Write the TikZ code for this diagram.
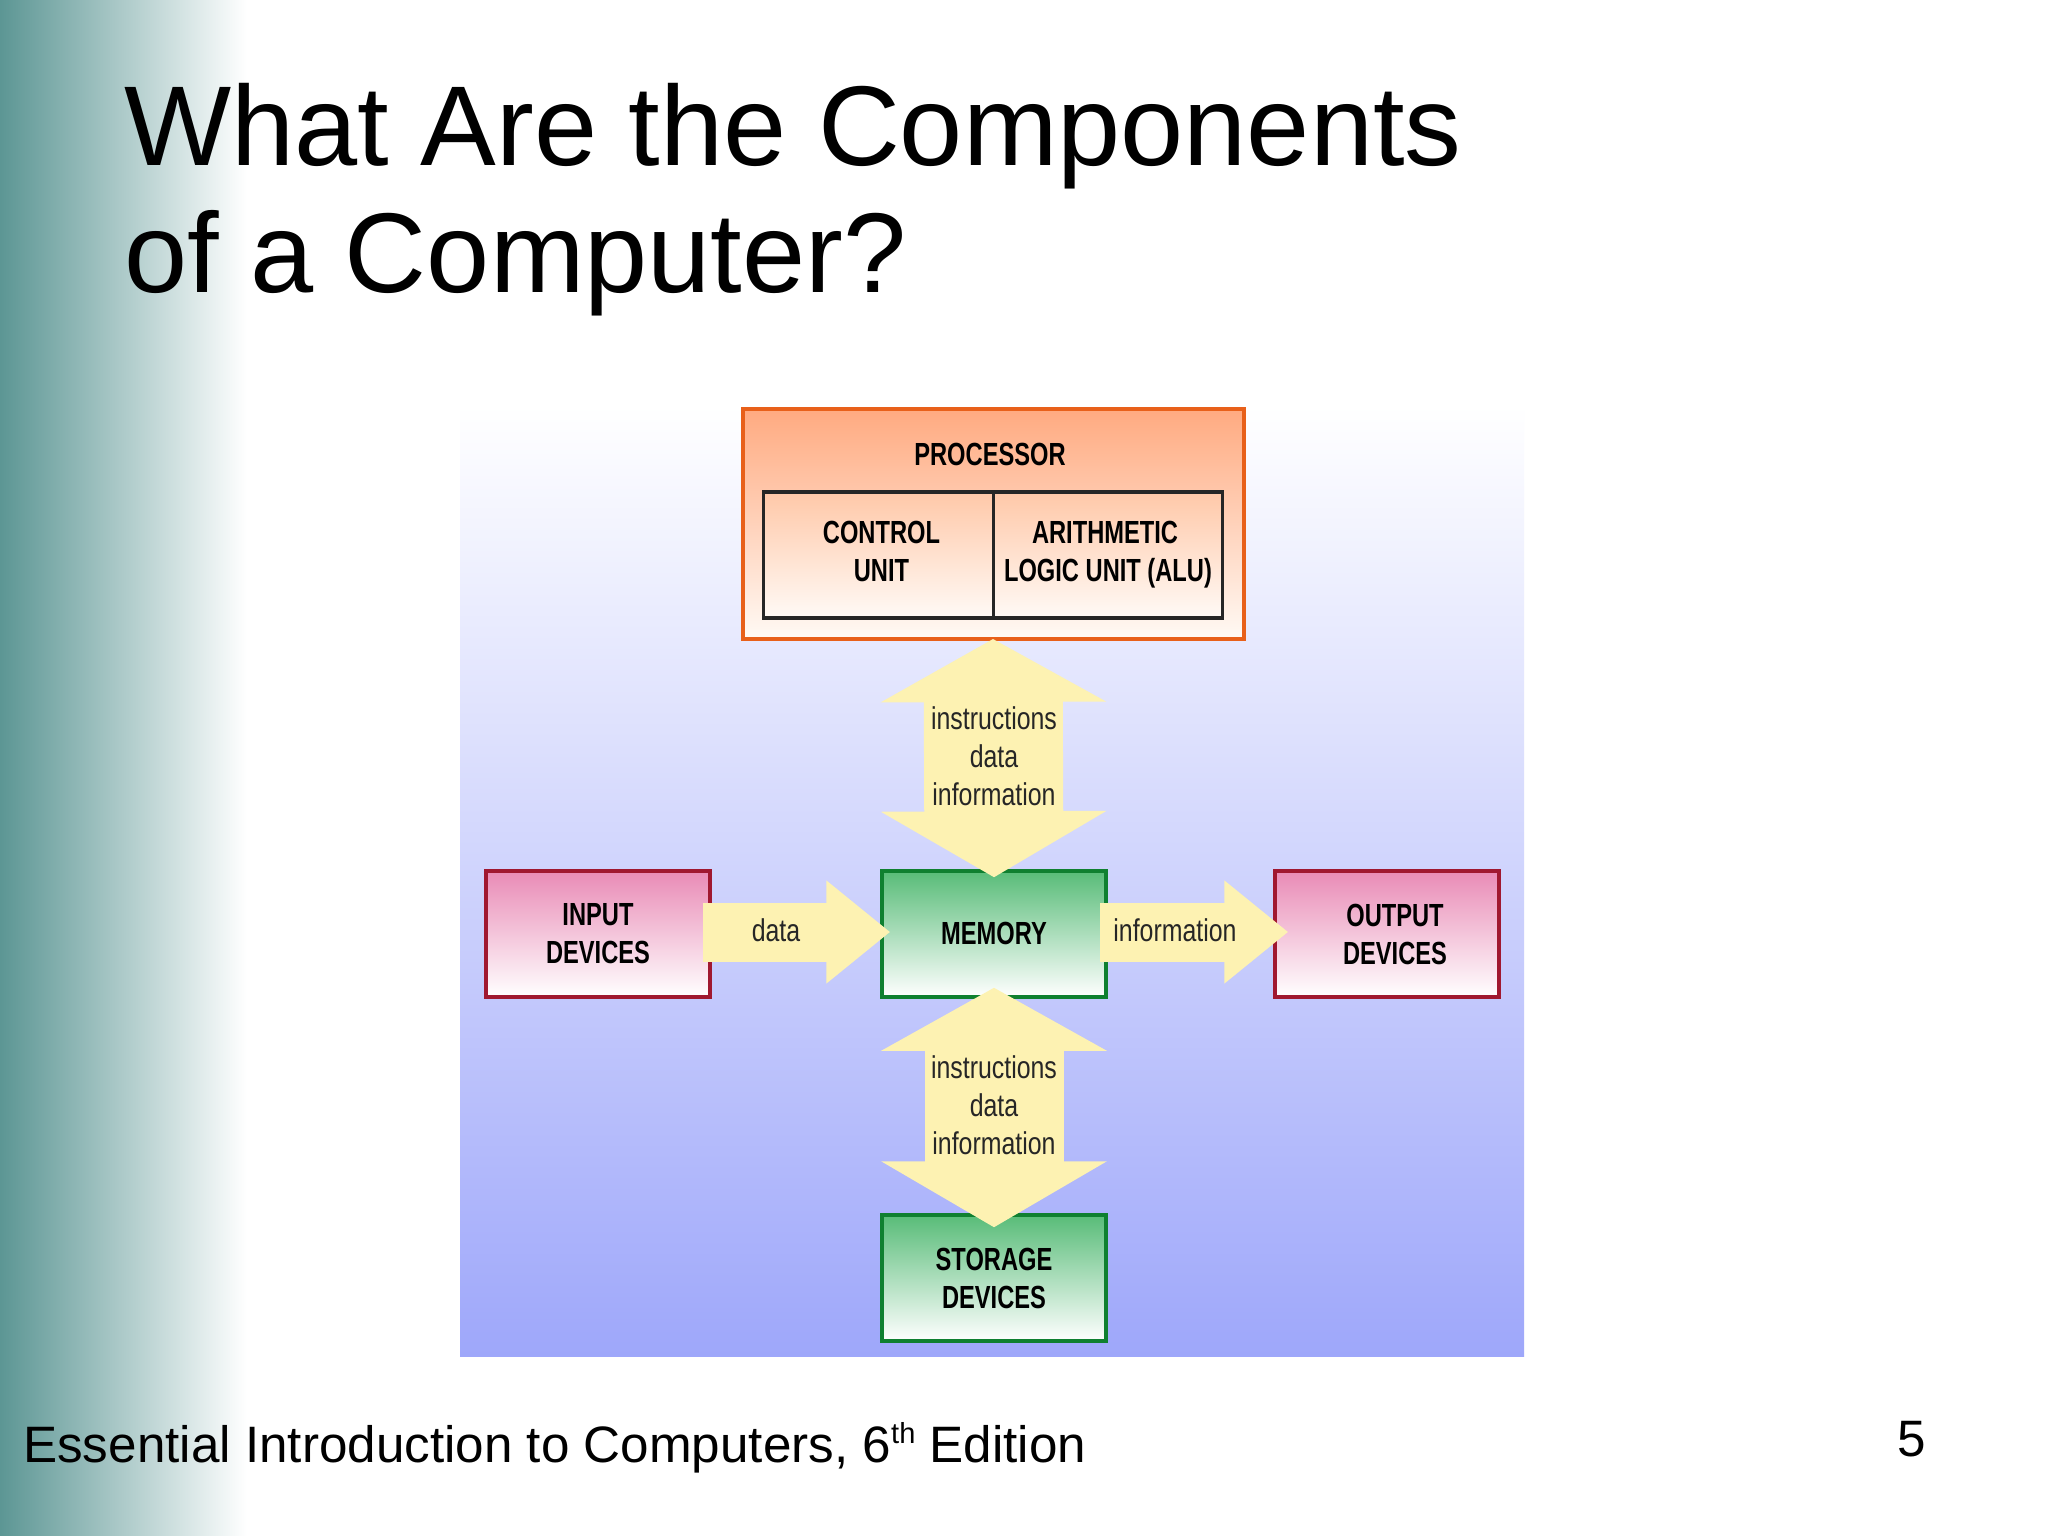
\documentclass[tikz,border=0pt]{standalone}
\usepackage{fontspec}
\setmainfont{Liberation Sans}
\newfontfamily\boldlab[FakeStretch=0.74]{Liberation Sans}
\newfontfamily\thinlab[FakeStretch=0.79]{Liberation Sans}
\usetikzlibrary{arrows.meta}
\definecolor{arrowc}{HTML}{FDF2B2}
\definecolor{pinktop}{HTML}{E98BB6}
\definecolor{greentop}{HTML}{58BC78}
\definecolor{redline}{HTML}{A01830}
\definecolor{greenline}{HTML}{0F8030}
\definecolor{orangeline}{HTML}{E8601A}
\tikzset{
  boxlabel/.style={font=\boldlab\bfseries\fontsize{32}{38}\selectfont,align=center,text=black,inner sep=0pt},
  arrowlabel/.style={font=\thinlab\fontsize{31.5}{38}\selectfont,align=center,text=black!85,inner sep=0pt},
  titletext/.style={font=\fontsize{113.5}{130}\selectfont,anchor=base west,inner sep=0pt,text=black},
  foottext/.style={font=\fontsize{51.2}{60}\selectfont,anchor=base west,inner sep=0pt,text=black},
  unitbox/.style={rectangle,inner sep=0pt,minimum width=224pt,minimum height=126pt,line width=3.5pt},
  redbox/.style={unitbox,draw=redline,top color=pinktop,bottom color=white,boxlabel},
  greenbox/.style={unitbox,draw=greenline,top color=greentop,bottom color=white,boxlabel},
  blockarrow/.style={draw=arrowc,line width=#1,line cap=butt},
}
\begin{document}
\begin{tikzpicture}[x=1pt,y=-1pt]
\useasboundingbox (0,0) rectangle (2048,1536);
\fill[white] (0,0) rectangle (2048,1536);
% sidebar
\shade[left color={rgb,255:red,92;green,150;blue,148},middle color={rgb,255:red,176;green,205;blue,203},right color=white]
  (0,0) rectangle (247,1536);
% diagram background
\shade[top color=white,bottom color={rgb,255:red,158;green,167;blue,250}] (460,405) rectangle (1524,1356);
% title and footer
\node[titletext] (t1) at (124,165) {What Are the Components};
\node[titletext] (t2) at (124,292) {of a Computer?};
\node[foottext] (foot) at (23,1462) {Essential Introduction to Computers, 6\raisebox{.36em}{\fontsize{29}{29}\selectfont th} Edition};
\node[foottext] (num) at (1897,1456) {5};
% boxes
\node[rectangle,draw=orangeline,line width=4pt,top color={rgb,255:red,255;green,170;blue,128},bottom color={rgb,255:red,255;green,250;blue,245},
      minimum width=501pt,minimum height=230pt,inner sep=0pt] (proc) at (993,524) {};
\node[rectangle,draw=black!85,line width=3.5pt,top color={rgb,255:red,255;green,200;blue,168},bottom color={rgb,255:red,255;green,250;blue,246},
      minimum width=230pt,minimum height=126pt,inner sep=0pt,boxlabel] (cu) at (878.5,555) {\hspace*{6pt}\raisebox{3pt}{\begin{tabular}{@{}c@{}}CONTROL\\[0pt]UNIT\end{tabular}}};
\node[rectangle,draw=black!85,line width=3.5pt,top color={rgb,255:red,255;green,200;blue,168},bottom color={rgb,255:red,255;green,250;blue,246},
      minimum width=229pt,minimum height=126pt,inner sep=0pt,boxlabel] (alu) at (1108,555) {\raisebox{3pt}{\begin{tabular}{@{}c@{}}ARITHMETIC\hspace*{6pt}\\[0pt]LOGIC UNIT (ALU)\end{tabular}}};
\node[boxlabel] (ptitle) at (990,454) {PROCESSOR};
\node[redbox] (input) at (598,934) {INPUT\\DEVICES};
\node[greenbox] (mem) at (994,934) {\raisebox{1pt}{MEMORY}};
\node[redbox] (output) at (1387,934) {\hspace*{16pt}OUTPUT\\\hspace*{16pt}DEVICES};
\node[greenbox] (stor) at (994,1278) {STORAGE\\DEVICES};
% block arrows
\draw[blockarrow=139pt,{Triangle[width=223pt,length=63pt,color=arrowc]}-{Triangle[width=223pt,length=66pt,color=arrowc]},shorten <=-2pt,shorten >=-8pt] (proc.south) -- (mem.north);
\draw[blockarrow=139pt,{Triangle[width=223pt,length=63pt,color=arrowc]}-{Triangle[width=223pt,length=66pt,color=arrowc]},shorten <=-11pt,shorten >=-14pt] (mem.south) -- (stor.north);
\draw[blockarrow=59pt,-{Triangle[width=99pt,length=64pt,color=arrowc]},shorten <=-9pt,shorten >=-10pt] ([yshift=2pt]input.east) -- ([yshift=2pt]mem.west);
\draw[blockarrow=59pt,-{Triangle[width=99pt,length=64pt,color=arrowc]},shorten <=-8pt,shorten >=-15pt] ([yshift=2pt]mem.east) -- ([yshift=2pt]output.west);
% arrow labels
\node[arrowlabel] (la) at (994,756.5) {instructions\\data\\information};
\node[arrowlabel] (lb) at (994,1105.5) {instructions\\data\\information};
\node[arrowlabel] (lc) at (776,930) {data};
\node[arrowlabel] (ld) at (1175,930) {information};
\end{tikzpicture}
\end{document}
